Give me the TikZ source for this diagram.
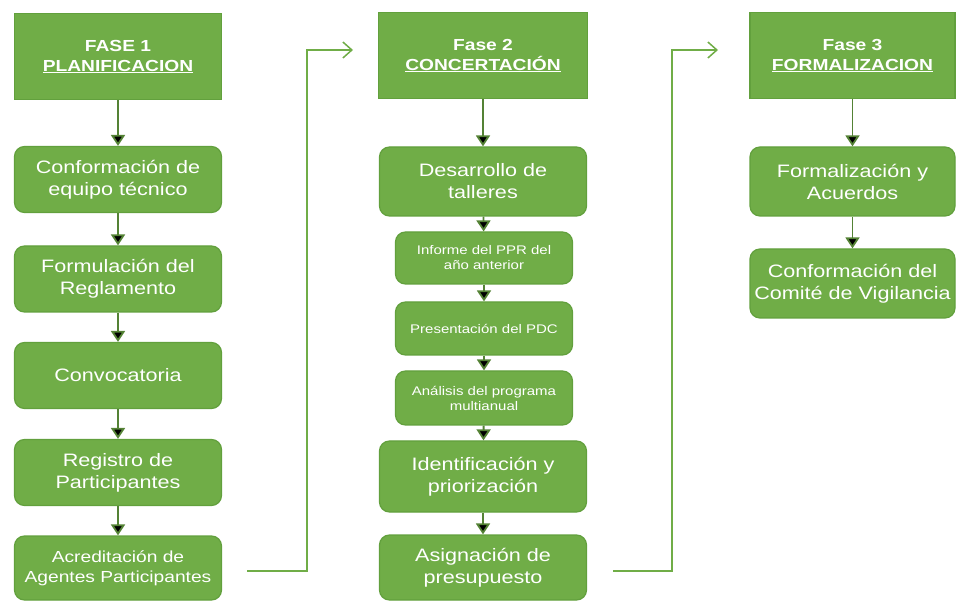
\documentclass[tikz,border=0pt]{standalone}
\usepackage{fontspec}
\setmainfont{Liberation Sans}[FakeStretch=1.2]
\usepackage{tikz}
\usepackage{xcolor}
\usetikzlibrary{
    arrows.meta,
    positioning
}
\definecolor{boxgreen}{HTML}{70AD47}
\definecolor{boxedge}{HTML}{62A03D}
\definecolor{arrgreen}{HTML}{548235}

\begin{document}
\begin{tikzpicture}[x=1pt, y=-1pt,
                    hdr/.style={draw=boxedge, fill=boxgreen, line width=1.2pt, text=white,
                        minimum width=207pt, minimum height=86pt, align=center,
                        font=\fontsize{16}{20}\selectfont\bfseries},
                    stepbox/.style={draw=boxedge, fill=boxgreen, line width=1.2pt, text=white,
                        rounded corners=10pt, minimum width=207pt, minimum height=66pt, align=center,
                        font=\fontsize{18}{22}\selectfont},
                    smallbox/.style={stepbox, minimum width=177pt, minimum height=53pt,
                        font=\fontsize{12.5}{15}\selectfont},
                    nxt/.style={draw=arrgreen, line width=1.8pt, -{Triangle[width=14pt, length=11pt]}},
                    jump/.style={draw=boxgreen, line width=1.5pt, -{Straight Barb[length=9pt, width=16pt]}}]
                    \useasboundingbox (0, 0) rectangle (956, 601);
                    % fase 1
                    \node[hdr] (fa1) at (118, 56.5) {FASE 1\\\underline{PLANIFICACION}};
                    \node[stepbox] (ceq) at (118, 179.5) {Conformación de\\equipo técnico};
                    \node[stepbox] (frg) at (118, 279) {Formulación del\\Reglamento};
                    \node[stepbox] (cnv) at (118, 375.5) {Convocatoria};
                    \node[stepbox] (rgp) at (118, 472.5) {Registro de\\Participantes};
                    \node[stepbox, minimum height=64pt, font=\fontsize{16}{20}\selectfont] (aap) at (118, 568) {Acreditación de\\Agentes Participantes};
                    % fase 2
                    \node[hdr, minimum width=209pt] (fa2) at (483, 55.5) {Fase 2\\\underline{CONCERTACIÓN}};
                    \node[stepbox, minimum height=69pt] (dta) at (483, 181.5) {Desarrollo de\\talleres};
                    \node[smallbox, minimum height=52pt] (ipr) at (484, 258) {Informe del PPR del\\año anterior};
                    \node[smallbox] (ppd) at (484, 328.5) {Presentación del PDC};
                    \node[smallbox, minimum height=54pt] (apm) at (484, 398) {Análisis del programa\\multianual};
                    \node[stepbox, minimum height=71pt] (idp) at (483, 476.5) {Identificación y\\priorización};
                    \node[stepbox, minimum height=65pt] (asp) at (483, 567.5) {Asignación de\\presupuesto};
                    % fase 3
                    \node[hdr, minimum width=205pt] (fa3) at (852.5, 55.5) {Fase 3\\\underline{FORMALIZACION}};
                    \node[stepbox, minimum width=205pt, minimum height=69pt] (fac) at (852.5, 181.5) {Formalización y\\Acuerdos};
                    \node[stepbox, minimum width=205pt, minimum height=69pt] (ccv) at (852.5, 283.5) {Conformación del\\Comité de Vigilancia};
                    % enlaces entre fases
                    \coordinate (k1s) at (247, 571);
                    \coordinate (k1c) at (307, 50);
                    \coordinate (k1e) at (353, 50);
                    \coordinate (k2s) at (613, 571);
                    \coordinate (k2c) at (672, 50);
                    \coordinate (k2e) at (718, 50);
                    \draw[nxt]
                    (fa1) edge (ceq)
                    (ceq) edge (frg)
                    (frg) edge (cnv)
                    (cnv) edge (rgp)
                    (rgp) edge (aap)
                    (fa2) edge (dta)
                    (dta) edge (ipr)
                    (ipr) edge (ppd)
                    (ppd) edge (apm)
                    (apm) edge (idp)
                    (idp) edge (asp)
                    (fa3) edge (fac)
                    (fac) edge (ccv);
                    \draw[jump] (k1s) -| (k1c) -- (k1e);
                    \draw[jump] (k2s) -| (k2c) -- (k2e);
                \end{tikzpicture}
\end{document}
